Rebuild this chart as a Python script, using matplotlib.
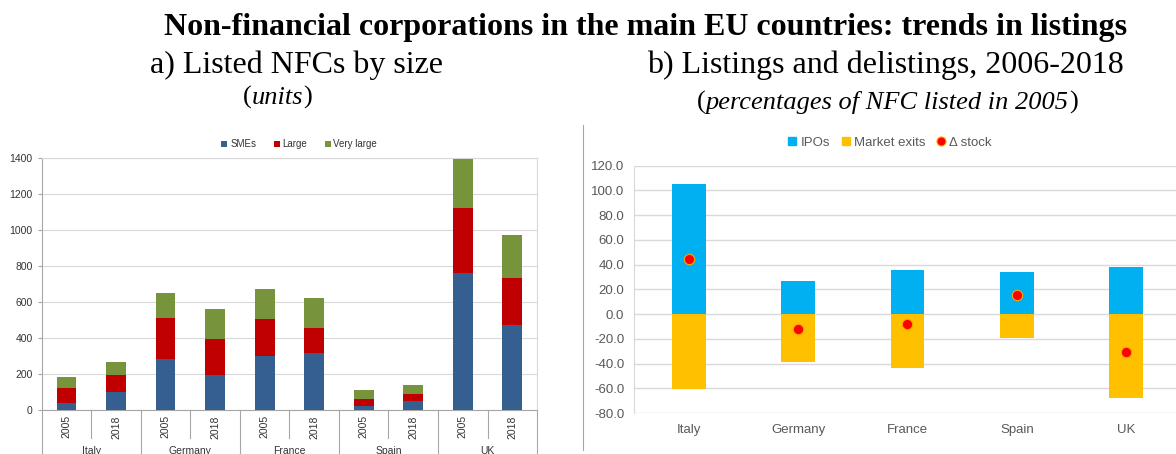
import numpy as np
import matplotlib
matplotlib.use('Agg')
import matplotlib.pyplot as plt
from matplotlib.lines import Line2D

plt.rcParams['font.family'] = ['Liberation Sans', 'DejaVu Sans']
plt.rcParams['axes.unicode_minus'] = False

# panel a) listed NFCs by size (units)
countries = ['Italy', 'Germany', 'France', 'Spain', 'UK']
years = ['2005', '2018']
smes = [37, 102, 281, 196, 302, 317, 22, 52, 763, 470]
large = [87, 91, 232, 197, 202, 137, 39, 37, 359, 261]
very_large = [61, 75, 137, 166, 166, 170, 50, 52, 271, 241]

# panel b) listings and delistings 2006-2018 (% of NFC listed in 2005)
ipos = [105.2, 26.7, 35.6, 34.3, 37.8]
exits = [-60.4, -38.8, -43.4, -19.1, -68.0]
delta_stock = [44.8, -12.4, -8.1, 15.4, -30.7]

c_sme, c_large, c_vlarge = '#365F91', '#C00000', '#77933C'
c_ipo, c_exit = '#00B0F0', '#FFC000'
grid_c = '#D9D9D9'

fig = plt.figure(figsize=(11.76, 4.54), dpi=100)
serif = ['Liberation Serif', 'DejaVu Serif']


def unit_text(xc, y, words, size):
    # "(" upright + italic words + ")" upright, centred on xc
    parts = [('(', 'normal'), (words, 'italic'), (')', 'normal')]
    r = fig.canvas.get_renderer()
    objs = []
    for s, st in parts:
        objs.append(fig.text(0, y, s, ha='left', va='baseline', fontsize=size,
                             family=serif, style=st))
    widths = [o.get_window_extent(r).width / fig.bbox.width for o in objs]
    x0 = xc - sum(widths) / 2
    for o, wd in zip(objs, widths):
        o.set_x(x0)
        x0 += wd


# titles
fig.text(0.549, 0.923, 'Non-financial corporations in the main EU countries: trends in listings',
         ha='center', va='baseline', fontsize=23, fontweight='bold', family=serif)
fig.text(0.252, 0.839, 'a) Listed NFCs by size', ha='center', va='baseline', fontsize=23, family=serif)
fig.text(0.7526, 0.839, 'b) Listings and delistings, 2006-2018', ha='center', va='baseline',
         fontsize=23, family=serif)
unit_text(0.2355, 0.771, 'units', 19)
unit_text(0.7545, 0.76, 'percentages of NFC listed in 2005', 19)

# ---------------- left chart
ax1 = fig.add_axes([0.0355, 0.0969, 0.4212, 0.555])
x = np.arange(len(smes))
w = 0.4
b1 = np.array(smes)
b2 = b1 + np.array(large)
ax1.bar(x, smes, w, color=c_sme, label='SMEs', zorder=3)
ax1.bar(x, large, w, bottom=b1, color=c_large, label='Large', zorder=3)
ax1.bar(x, very_large, w, bottom=b2, color=c_vlarge, label='Very large', zorder=3)
ax1.set_xlim(-0.5, len(smes) - 0.5)
ax1.set_ylim(0, 1400)
ax1.set_yticks(range(0, 1401, 200))
ax1.yaxis.grid(True, color=grid_c, lw=0.8, zorder=0)
ax1.set_xticks([])
ax1.tick_params(axis='y', labelsize=7.5, labelcolor='#333333', length=3, color='#A6A6A6')
for s in ['top', 'right']:
    ax1.spines[s].set_color(grid_c)
for s in ['left', 'bottom']:
    ax1.spines[s].set_color('#A6A6A6')

for i in range(len(smes)):
    ax1.text(i, -0.067, years[i % 2], transform=ax1.get_xaxis_transform(), rotation=90,
             ha='center', va='center', fontsize=7.5, color='#333333')
for j, c in enumerate(countries):
    ax1.text(2 * j + 0.5, -0.163, c, transform=ax1.get_xaxis_transform(),
             ha='center', va='center', fontsize=7.5, color='#333333')
for k in range(len(smes) + 1):
    xs = k - 0.5
    y_end = -0.3 if k % 2 == 0 else -0.111
    ax1.plot([xs, xs], [0, y_end], transform=ax1.get_xaxis_transform(), color='#A6A6A6',
             lw=0.8, clip_on=False)

ax1.legend(loc='lower center', bbox_to_anchor=(0.52, 1.0), ncol=3, frameon=False, fontsize=7,
           handlelength=0.6, handleheight=0.6, handletextpad=0.3, columnspacing=1.8,
           labelcolor='#333333')

# frame line of right panel
fig.add_artist(Line2D([583 / 1176, 583 / 1176], [(454 - 125) / 454, (454 - 450) / 454],
                      color='#A6A6A6', lw=0.8))

# ---------------- right chart
ax2 = fig.add_axes([0.5391, 0.0903, 0.4651, 0.5447])
xc = np.arange(len(countries))
bw = 0.31
ax2.bar(xc, ipos, bw, color=c_ipo, zorder=3)
ax2.bar(xc, exits, bw, color=c_exit, zorder=3)
ax2.plot(xc, delta_stock, 'o', ms=7.5, color='#FF0000', mec='#FFA500', mew=0.8, zorder=4)
ax2.set_xlim(-0.5, len(countries) - 0.5)
ax2.set_ylim(-80, 120)
ax2.set_yticks(range(-80, 121, 20))
ax2.set_yticklabels(['%.1f' % v for v in range(-80, 121, 20)])
ax2.set_xticks(xc)
ax2.set_xticklabels(countries)
ax2.yaxis.grid(True, color=grid_c, lw=1.0, zorder=0)
ax2.tick_params(axis='both', labelsize=9.5, labelcolor='#595959', length=0, pad=8)
ax2.tick_params(axis='y', pad=7)
for s in ['top', 'right', 'bottom']:
    ax2.spines[s].set_visible(False)
ax2.spines['left'].set_color(grid_c)

handles = [Line2D([], [], marker='s', ls='', ms=6, color=c_ipo),
           Line2D([], [], marker='s', ls='', ms=6, color=c_exit),
           Line2D([], [], marker='o', ls='', ms=6.5, color='#FF0000', mec='#FFA500', mew=0.8)]
ax2.legend(handles, ['IPOs', 'Market exits', '\u0394 stock'], loc='lower center',
           bbox_to_anchor=(0.468, 1.02), ncol=3, frameon=False, fontsize=9.5,
           handlelength=0.6, handletextpad=0.3, columnspacing=0.9, labelcolor='#595959')

fig.savefig('out.png', dpi=100)
